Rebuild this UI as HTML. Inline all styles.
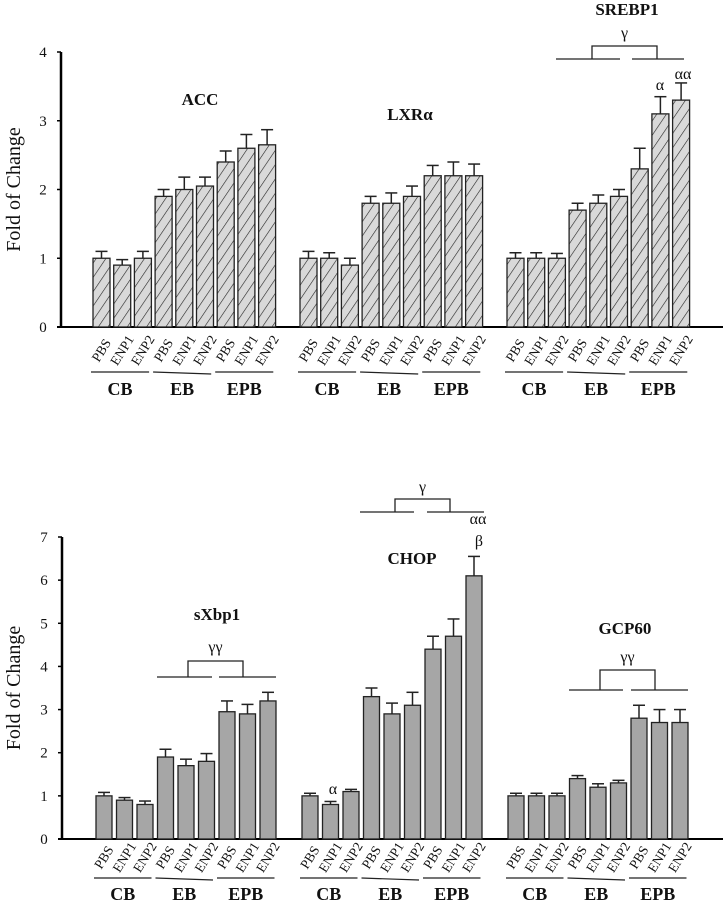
<!DOCTYPE html>
<html><head><meta charset="utf-8">
<style>
html,body{margin:0;padding:0;background:#fff;}
svg{display:block;font-family:"Liberation Serif",serif;}
</style></head>
<body>
<svg id="chart" width="726" height="900" viewBox="0 0 726 900" xmlns="http://www.w3.org/2000/svg">
<defs>
<pattern id="hatch" patternUnits="userSpaceOnUse" width="8" height="8" patternTransform="rotate(-56)">
<rect width="8" height="8" fill="#d9d9d9"/>
<line x1="0" y1="0" x2="8" y2="0" stroke="#222" stroke-width="1.2"/>
</pattern>
</defs>
</svg>
<script>
var groupLabels = ["CB","EB","EPB"];
var treatLabels = ["PBS","ENP1","ENP2"];
var topTicks = ["0","1","2","3","4"];
var botTicks = ["0","1","2","3","4","5","6","7"];
var accVals = [1,0.9,1,1.9,2,2.05,2.4,2.6,2.65];
var accErr = [0.1,0.08,0.1,0.1,0.18,0.13,0.16,0.2,0.22];
var lxrVals = [1,1,0.9,1.8,1.8,1.9,2.2,2.2,2.2];
var lxrErr = [0.1,0.08,0.1,0.1,0.15,0.15,0.15,0.2,0.17];
var srebpVals = [1,1,1,1.7,1.8,1.9,2.3,3.1,3.3];
var srebpErr = [0.08,0.08,0.07,0.1,0.12,0.1,0.3,0.25,0.25];
var xbpVals = [1,0.9,0.8,1.9,1.7,1.8,2.95,2.9,3.2];
var xbpErr = [0.08,0.06,0.08,0.18,0.15,0.18,0.25,0.22,0.2];
var chopVals = [1,0.8,1.1,3.3,2.9,3.1,4.4,4.7,6.1];
var chopErr = [0.06,0.07,0.05,0.2,0.25,0.3,0.3,0.4,0.45];
var gcpVals = [1,1,1,1.4,1.2,1.3,2.8,2.7,2.7];
var gcpErr = [0.06,0.06,0.06,0.07,0.08,0.06,0.3,0.3,0.3];

var svg = document.getElementById('chart');
var NS = "http://www.w3.org/2000/svg";
function mk(tag, attrs, parent){var e=document.createElementNS(NS,tag);for(var k in attrs)e.setAttribute(k,attrs[k]);(parent||svg).appendChild(e);return e;}
function txt(x,y,s,size,bold,anchor,parent){var t=mk('text',{x:x,y:y,'font-size':size,'text-anchor':anchor||'middle','font-weight':bold?'bold':'normal',fill:'#111'},parent);t.textContent=s;return t;}

function panel(cfg){
  var g=mk('g',{});
  
  
  var y=function(v){return cfg.y0-(v/cfg.max)*(cfg.y0-cfg.yTop);};
  var ax=mk('line',{x1:cfg.ax,y1:cfg.yTop,x2:cfg.ax,y2:cfg.y0,stroke:'#000','stroke-width':2.5},g);
  
  
  var xa=mk('line',{x1:cfg.ax-4,y1:cfg.y0,x2:723,y2:cfg.y0,stroke:'#000','stroke-width':2},g);
  
  
  cfg.ticks.forEach(function(t,i){
    var tv=+t; var yy=y(tv);
    mk('line',{x1:cfg.ax-4,y1:yy,x2:cfg.ax,y2:yy,stroke:'#000','stroke-width':1.5},g);
    var tl=txt(cfg.ax-18,yy+5,t,15,false,'middle',g);
    
    
  });
  var yt=mk('text',{x:0,y:0,'font-size':20,'text-anchor':'middle',transform:'translate('+cfg.titleX+','+((cfg.yTop+cfg.y0)/2)+') rotate(-90)',fill:'#111'},g);
  yt.textContent='Fold of Change';
  
  
  cfg.series.forEach(function(s,si){
    var gx=cfg.startX+si*cfg.groupStep;
    s.vals.forEach(function(v,i){
      var x=gx+i*cfg.barStep;
      var r=mk('rect',{x:x,y:y(v),width:cfg.barW,height:cfg.y0-y(v),fill:cfg.fill,stroke:'#222','stroke-width':1.3},g);
      
      
      var cx=x+cfg.barW/2, ye=y(v+s.err[i]);
      mk('line',{x1:cx,y1:y(v),x2:cx,y2:ye,stroke:'#222','stroke-width':1.5},g);
      mk('line',{x1:cx-6,y1:ye,x2:cx+6,y2:ye,stroke:'#222','stroke-width':1.5},g);
      var lab=treatLabels[i%3];
      var tl=mk('text',{x:0,y:0,'font-size':13.5,'text-anchor':'middle','dominant-baseline':'middle',transform:'translate('+(cx+1)+','+(cfg.y0+cfg.labOff)+') rotate(-58)',fill:'#111'},g);
      tl.textContent=lab;
      
      
    });
    groupLabels.forEach(function(gl,j){
      var x1=gx+j*3*cfg.barStep-2, x2=x1+3*cfg.barStep-4;
      mk('line',{x1:x1,y1:cfg.lineY,x2:x2,y2:cfg.lineY+(j==1?2:0),stroke:'#222','stroke-width':1.2},g);
      var t=txt((x1+x2)/2,cfg.lineY+cfg.grpOff,gl,18,true,'middle',g);
      
      
    });
    var tt=txt(s.tx,s.ty,s.title,17,true,'middle',g);
    
    
  });
}
panel({name:'top',ax:61,yTop:52,y0:327,max:4,ticks:topTicks,titleX:20,startX:93,groupStep:207,barStep:20.7,barW:17,fill:'url(#hatch)',labOff:24,lineY:372,grpOff:23,
  series:[{name:'acc',vals:accVals,err:accErr,title:'ACC',tx:200,ty:105},
          {name:'lxr',vals:lxrVals,err:lxrErr,title:'LXRα',tx:410,ty:120},
          {name:'srebp1',vals:srebpVals,err:srebpErr,title:'SREBP1',tx:627,ty:15}]});
panel({name:'bottom',ax:62,yTop:537,y0:839,max:7,ticks:botTicks,titleX:20,startX:96,groupStep:206,barStep:20.5,barW:16,fill:'#a6a6a6',labOff:19,lineY:878,grpOff:22,
  series:[{name:'sxbp1',vals:xbpVals,err:xbpErr,title:'sXbp1',tx:217,ty:620},
          {name:'chop',vals:chopVals,err:chopErr,title:'CHOP',tx:412,ty:564},
          {name:'gcp60',vals:gcpVals,err:gcpErr,title:'GCP60',tx:625,ty:634}]});

function bracket(l1a,l1b,l2a,l2b,ly,ba,bb,by,sym,sy){
  var g=mk('g',{});
  
  
  mk('line',{x1:l1a,y1:ly,x2:l1b,y2:ly,stroke:'#222','stroke-width':1.3},g);
  mk('line',{x1:l2a,y1:ly,x2:l2b,y2:ly,stroke:'#222','stroke-width':1.3},g);
  mk('polyline',{points:ba+','+ly+' '+ba+','+by+' '+bb+','+by+' '+bb+','+ly,fill:'none',stroke:'#222','stroke-width':1.3},g);
  txt((ba+bb)/2,sy,sym,16,false,'middle',g);
}
bracket(556,620,632,684,59,592,657,46,'γ',38);
bracket(360,414,427,484,512,395,450,499,'γ',492);
bracket(157,212,219,276,677,188,243,661,'γγ',652);
bracket(569,623,631,688,690,600,655,670,'γγ',662);
[[660,90,'α'],[683,79,'αα'],[478,524,'αα'],[479,546,'β'],[333,794,'α']].forEach(function(a){
  var t=txt(a[0],a[1],a[2],16,false,'middle');
  
  
});
</script>
</body></html>
